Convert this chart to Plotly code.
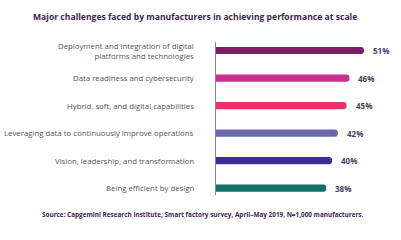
import plotly.graph_objects as go

categories = [
    "Deployment and integration of digital<br>platforms and technologies",
    "Data readiness and cybersecurity",
    "Hybrid, soft, and digital capabilities",
    "Leveraging data to continuously improve operations",
    "Vision, leadership, and transformation",
    "Being efficient by design",
]
values = [51, 46, 45, 42, 40, 38]
colors = ["#7a1f66", "#c8308f", "#e8336a", "#6a68b0", "#3b2e9a", "#16706a"]

title = "Major challenges faced by manufacturers in achieving performance at scale"
source = "Source: Capgemini Research Institute, Smart factory survey, April\u2013May 2019, N=1,000 manufacturers."

FONT = "Open Sans"
L, R, T, B = 216, 15, 42, 45
PW = 401 - L - R

fig = go.Figure()
fig.add_trace(go.Bar(
    x=values, y=categories, orientation="h",
    marker=dict(color=colors, cornerradius=3, line=dict(width=0)),
    width=0.26, hoverinfo="skip",
))

for c, v in zip(categories, values):
    fig.add_annotation(x=v, y=c, text=f"<b>{v}%</b>", showarrow=False,
                       xanchor="left", xshift=7,
                       font=dict(family=FONT, size=8, color="#4b3a5e"))
    fig.add_annotation(x=0, y=c, text=c, showarrow=False, align="right",
                       xanchor="right", xshift=-20,
                       font=dict(family=FONT, size=7.8, color="#555555"))

fig.add_annotation(xref="paper", yref="paper", x=(195 - L) / PW, y=1, yshift=25,
                   text=f"<b>{title}</b>", showarrow=False, xanchor="center", yanchor="middle",
                   font=dict(family=FONT, size=8.6, color="#3d2550"))
fig.add_annotation(xref="paper", yref="paper", x=(203 - L) / PW, y=0, yshift=-19,
                   text=f"<b>{source}</b>", showarrow=False, xanchor="center", yanchor="middle",
                   font=dict(family=FONT, size=6.4, color="#3d2550"))

fig.update_layout(
    width=401, height=240,
    margin=dict(l=L, r=R, t=T, b=B),
    paper_bgcolor="white", plot_bgcolor="white",
    showlegend=False,
    font=dict(family=FONT, size=7.8, color="#555555"),
)

fig.update_xaxes(range=[0, 58.6], visible=False, showgrid=False, zeroline=False)
fig.update_yaxes(range=[5.25, -0.31], showgrid=False, zeroline=False, ticks="",
                 showticklabels=False,
                 showline=True, linecolor="#8a8099", linewidth=1)

fig.write_html("out.html")
